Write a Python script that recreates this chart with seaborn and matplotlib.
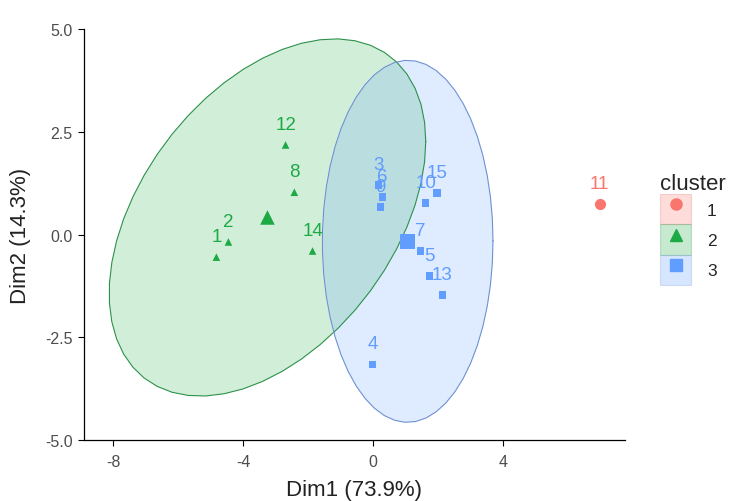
import numpy as np
import pandas as pd
import matplotlib
matplotlib.use("Agg")
import matplotlib.pyplot as plt
from matplotlib.patches import Patch
from matplotlib.lines import Line2D
import seaborn as sns

# PCA coordinates
labels = ["1", "2", "3", "4", "5", "6", "7", "8", "9", "10", "11", "12", "13", "14", "15"]
dim1 = [-4.82, -4.45, 0.17, -0.02, 1.74, 0.29, 1.46, -2.42, 0.23, 1.62, 6.98, -2.69, 2.14, -1.86, 1.98]
dim2 = [-0.55, -0.18, 1.20, -3.16, -1.01, 0.91, -0.40, 1.03, 0.67, 0.77, 0.74, 2.18, -1.47, -0.40, 1.01]
cluster = ["2", "2", "3", "3", "3", "3", "3", "2", "3", "3", "1", "2", "3", "2", "3"]

clusters = ["1", "2", "3"]
colors = {"1": "#F8766D", "2": "#1DAA45", "3": "#619CFF"}
edge_colors = {"1": "#E06A62", "2": "#2B9148", "3": "#6E90D2"}
markers = {"1": "o", "2": "^", "3": "s"}
# F quantiles qf(0.95, 2, n-1) for the normal ellipses (n = 5 and n = 9)
f95 = {5: 6.944272, 9: 4.458970}

df = pd.DataFrame({"name": labels, "x": dim1, "y": dim2, "cluster": cluster})
centers = df.groupby("cluster")[["x", "y"]].mean().reset_index()

sns.set_theme(style="ticks")
plt.rcParams["font.family"] = ["Liberation Sans", "DejaVu Sans"]

fig = plt.figure(figsize=(7.29, 5.02), dpi=100)
ax = fig.add_axes([0.115, 0.1215, 0.742, 0.8185])

# 95% normal ellipses, like stat_ellipse(type = "norm")
for c in clusters:
    sub = df[df["cluster"] == c]
    if len(sub) < 3:
        continue
    xy = sub[["x", "y"]].to_numpy()
    center = xy.mean(axis=0)
    shape = np.cov(xy.T)
    radius = np.sqrt(2 * f95[len(sub)])
    t = np.linspace(0, 2 * np.pi, 52)
    circle = np.column_stack([np.cos(t), np.sin(t)])
    U = np.linalg.cholesky(shape).T
    ell = center + radius * circle @ U
    ax.fill(ell[:, 0], ell[:, 1], facecolor=colors[c], alpha=0.2, zorder=1)
    ax.plot(ell[:, 0], ell[:, 1], color=edge_colors[c], lw=0.8, zorder=2)

sns.scatterplot(data=df, x="x", y="y", hue="cluster", style="cluster",
                palette=colors, markers=markers, hue_order=clusters,
                style_order=clusters, s=30, linewidth=0, legend=False,
                ax=ax, zorder=3)
big = centers[centers["cluster"] != "1"]
sns.scatterplot(data=big, x="x", y="y", hue="cluster", style="cluster",
                palette=colors, markers=markers, hue_order=clusters,
                style_order=clusters, s=110, linewidth=0, legend=False,
                ax=ax, zorder=3)
sns.scatterplot(data=centers[centers["cluster"] == "1"], x="x", y="y",
                color=colors["1"], marker="o", s=65, linewidth=0,
                legend=False, ax=ax, zorder=3)

for _, r in df.iterrows():
    ax.annotate(r["name"], (r["x"], r["y"]), xytext=(0, 15), textcoords="offset points",
                ha="center", va="center", fontsize=13.5, color=colors[r["cluster"]],
                zorder=4)

ax.set_xlim(-8.9, 7.75)
ax.set_ylim(-5.0, 5.0)
ax.set_xticks([-8, -4, 0, 4])
ax.set_xticklabels(["-8", "-4", "0", "4"])
ax.set_yticks([-5, -2.5, 0, 2.5, 5])
ax.set_yticklabels(["-5.0", "-2.5", "0.0", "2.5", "5.0"])
ax.tick_params(labelsize=11.5, labelcolor="#4D4D4D", length=4, width=0.8,
               color="black", pad=4)
ax.tick_params(axis="x", pad=6)
ax.set_xlabel("Dim1 (73.9%)", fontsize=16, color="#222222", labelpad=7)
ax.set_ylabel("Dim2 (14.3%)", fontsize=16, color="#222222", labelpad=10)
for s in ["left", "bottom"]:
    ax.spines[s].set_linewidth(0.9)
    ax.spines[s].set_color("black")
sns.despine(ax=ax)

handles = []
for c in clusters:
    box = Patch(facecolor=colors[c], alpha=0.25, edgecolor=edge_colors[c], linewidth=0.8)
    mk = Line2D([], [], marker=markers[c], color=colors[c], linestyle="none", markersize=8)
    handles.append((box, mk))
leg = fig.legend(handles, clusters, title="cluster", loc="center left",
                 bbox_to_anchor=(0.889, 0.542), frameon=False, fontsize=12.5,
                 title_fontsize=16, handlelength=1.8, handleheight=2.3,
                 labelspacing=0.0, handletextpad=0.9, borderpad=0.2)
leg._legend_box.align = "left"

fig.savefig("out.png", dpi=100)
